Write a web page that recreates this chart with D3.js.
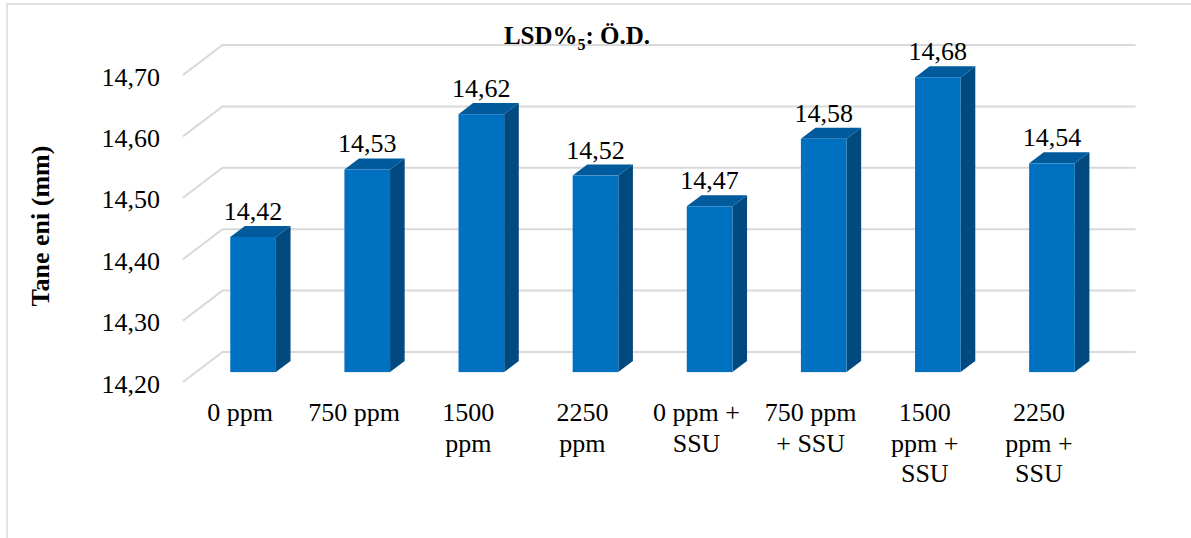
<!DOCTYPE html>
<html>
<head>
<meta charset="utf-8">
<script src="https://cdn.jsdelivr.net/npm/d3@7"></script>
<style>
  html, body { margin: 0; padding: 0; background: #fff; }
  svg { display: block; }
</style>
</head>
<body>
<svg id="chart" width="1191" height="538" font-family="'Liberation Serif', 'Times New Roman', Times, serif"></svg>
<script>
// ---- data ----
const categories = ["0 ppm", "750 ppm", "1500 ppm", "2250 ppm", "0 ppm + SSU", "750 ppm + SSU", "1500 ppm + SSU", "2250 ppm + SSU"];
const categoryLines = [
  ["0 ppm"], ["750 ppm"], ["1500", "ppm"], ["2250", "ppm"],
  ["0 ppm +", "SSU"], ["750 ppm", "+ SSU"], ["1500", "ppm +", "SSU"], ["2250", "ppm +", "SSU"]
];
const values = [14.42, 14.53, 14.62, 14.52, 14.47, 14.58, 14.68, 14.54];
const tickValues = [14.20, 14.30, 14.40, 14.50, 14.60, 14.70];
const yDomain = [14.20, 14.70];
const chartTitle = "LSD%";
const titleSub = "5";
const titleRest = ": Ö.D.";
const yTitle = "Tane eni (mm)";

// ---- layout ----
const FONT = "'Liberation Serif', 'Times New Roman', Times, serif";
const svg = d3.select("#chart");
const DX = 39.5, DY = 30;          // depth offset front plane -> back wall
const F0 = 0.33, F1 = 0.70;         // bar depth fractions
const fs = 26;

const loc = d3.formatLocale({decimal: ",", thousands: ".", grouping: [3], currency: ["", ""]});
const fmt = loc.format(".2f");

const x = d3.scaleBand().domain(categories).range([183, 1096]).paddingInner(0).paddingOuter(0);
const yB = d3.scaleLinear().domain(yDomain).range([352, 45]);

// chart border
svg.append("rect").attr("x", 7).attr("y", 4).attr("width", 1200).attr("height", 560)
  .attr("fill", "none").attr("stroke", "#d9d9d9").attr("stroke-width", 1.5);

// gridlines (3D: front diagonal + back wall)
const [xf0, xf1] = x.range();
svg.append("g").selectAll("polyline").data(tickValues).join("polyline")
  .attr("points", d => `${xf0},${yB(d) + DY} ${xf0 + DX},${yB(d)} ${xf1 + DX},${yB(d)}`)
  .attr("fill", "none").attr("stroke", "#d9d9d9").attr("stroke-width", 2);

// tick labels
svg.append("g").selectAll("text").data(tickValues).join("text")
  .attr("x", 160).attr("y", d => yB(d) + DY + 2)
  .attr("text-anchor", "end").attr("dominant-baseline", "central")
  .style("font-family", FONT).style("font-size", fs + "px")
  .text(d => fmt(d));

// bars
const bw = x.bandwidth() * 0.4;
const d = (F1 - F0) * DX, dd = (F1 - F0) * DY;
const bars = svg.append("g").selectAll("g").data(values.map((v, i) => ({v, c: categories[i], i}))).join("g");
bars.each(function(b) {
  const g = d3.select(this);
  const cx = x(b.c) + x.bandwidth() / 2 + F0 * DX;
  const x0 = cx - bw / 2, x1 = cx + bw / 2;
  const yt = yB(b.v) + DY * (1 - F0);
  const yb = yB(yDomain[0]) + DY * (1 - F0);
  g.append("polygon")
    .attr("points", `${x1},${yt} ${x1 + d},${yt - dd} ${x1 + d},${yb - dd} ${x1},${yb}`)
    .attr("fill", "#004a80");
  g.append("polygon")
    .attr("points", `${x0},${yt} ${x1},${yt} ${x1 + d},${yt - dd} ${x0 + d},${yt - dd}`)
    .attr("fill", "#005a9c");
  g.append("rect").attr("x", x0).attr("y", yt).attr("width", bw).attr("height", yb - yt)
    .attr("fill", "#0070c0");
  g.append("text").attr("x", cx).attr("y", yt - dd - 6)
    .attr("text-anchor", "middle").style("font-family", FONT).style("font-size", fs + "px")
    .text(fmt(b.v));
});

// category labels
const cat = svg.append("g").selectAll("text").data(categories).join("text")
  .attr("text-anchor", "middle").style("font-family", FONT).style("font-size", fs + "px")
  .attr("x", c => x(c) + x.bandwidth() / 2)
  .attr("y", 421);
cat.each(function(c, i) {
  const t = d3.select(this);
  categoryLines[i].forEach((line, j) => {
    t.append("tspan").attr("x", x(c) + x.bandwidth() / 2).attr("dy", j === 0 ? 0 : 30.5).text(line);
  });
});

// title
const title = svg.append("text").attr("x", 577).attr("y", 44)
  .attr("text-anchor", "middle").style("font-family", FONT)
  .style("font-size", "25px").style("font-weight", "bold");
title.append("tspan").text(chartTitle);
title.append("tspan").attr("dy", 6).style("font-size", "16px").text(titleSub);
title.append("tspan").attr("dy", -6).text(titleRest);

// y-axis title
svg.append("text")
  .attr("transform", "translate(40,226) rotate(-90)")
  .attr("text-anchor", "middle").attr("dominant-baseline", "central")
  .style("font-family", FONT).style("font-size", fs + "px").style("font-weight", "bold")
  .text(yTitle);
</script>
</body>
</html>
